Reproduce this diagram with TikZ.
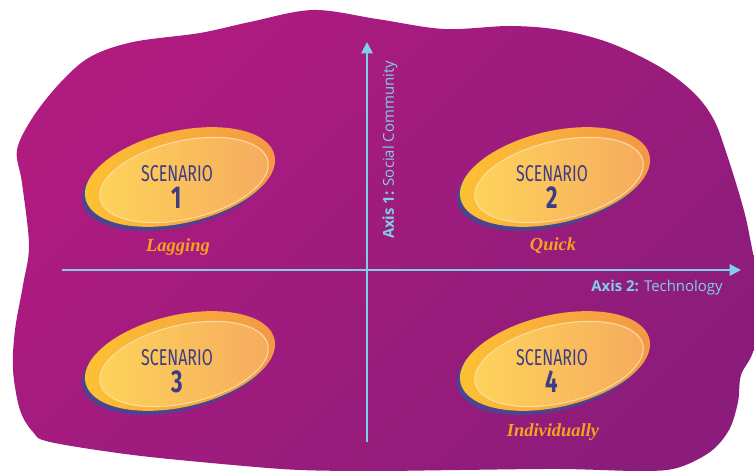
\documentclass[tikz,border=0pt]{standalone}
\usepackage{fontspec}
\setmainfont{Open Sans}
\newfontfamily\scenfont[FakeStretch=0.7]{Fira Sans}
\newfontfamily\tagfont{Liberation Serif}
\usepackage{tikz}
\usetikzlibrary{positioning}
\usetikzlibrary{arrows.meta}

\definecolor{blobA}{HTML}{B01B80}
\definecolor{blobB}{HTML}{8C1C7B}
\definecolor{axiscol}{HTML}{80CFE6}
\definecolor{discA}{HTML}{FDC232}
\definecolor{discB}{HTML}{F39646}
\definecolor{innerA}{HTML}{FDD45A}
\definecolor{innerB}{HTML}{F6AA5E}
\definecolor{rimcol}{HTML}{FBDDA2}
\definecolor{shadowcol}{HTML}{4A4590}
\definecolor{inkcol}{HTML}{3F3C86}
\definecolor{tagcol}{HTML}{F5A21E}

\tikzset{
  axisline/.style={draw=axiscol, line width=1.1pt, -{Triangle[length=6.5pt,width=6.5pt]}},
  axislabel/.style={text=axiscol, font=\fontsize{8.5}{10}\selectfont, inner sep=0pt},
  scenlabel/.style={text=inkcol, align=center, inner sep=0pt},
  taglabel/.style={text=tagcol, font=\tagfont\bfseries\itshape\fontsize{10.5}{12}\selectfont, inner sep=0pt},
}

\begin{document}
\begin{tikzpicture}[x=0.02cm, y=-0.02cm]
\fill[white] (0,0) rectangle (754,475);
\useasboundingbox (0,0) rectangle (754,475);

% backdrop
\begin{scope}
\clip (0,0) rectangle (754,475);
\shade[top color=blobA, bottom color=blobB, shading angle=45]
  plot[smooth cycle, tension=0.55] coordinates {
  (17,150) (33,117) (60,83) (90,57) (133,42) (200,33) (250,22) (313,10)
  (377,19) (444,29) (510,26) (560,30) (610,43) (660,67) (694,93) (714,120)
  (727,155) (741,200) (749,233) (758,290) (754,348) (741,375) (738,402)
  (729,430) (710,452) (677,468) (640,471) (560,469) (460,470) (377,471)
  (300,470) (233,465) (133,455) (50,442) (33,432) (20,410) (13,370)
  (15,330) (23,285) (29,245) (22,183)};
\end{scope}

% axes
\coordinate (v0) at (367,442);
\coordinate (v1) at (367,42);
\coordinate (h0) at (62,270);
\coordinate (h1) at (741,270);
\draw[axisline] (v0) -- (v1);
\draw[axisline] (h0) -- (h1);
\node[axislabel, rotate=90] (ax1) at (390,150) {\textbf{Axis 1:} Social Community};
\node[axislabel] (ax2) at (657,288) {\textbf{Axis 2:} Technology};

% scenario discs
\foreach \n/\cx/\cy in {1/180/177, 2/555/177, 3/180/361, 4/555/361} {
  \fill[shadowcol, rotate around={13:(\cx-3,\cy+4)}] (\cx-3,\cy+4) ellipse [x radius=97, y radius=46];
  \shade[left color=discA, right color=discB, rotate around={13:(\cx,\cy)}] (\cx,\cy) ellipse [x radius=97, y radius=46];
  \shade[left color=innerA, right color=innerB, draw=rimcol, line width=0.6pt, rotate around={13:(\cx+4,\cy+3)}] (\cx+4,\cy+3) ellipse [x radius=86, y radius=39];
  \node[scenlabel] (s\n) at (\cx-3,\cy+10) {{\scenfont\fontsize{13}{14}\selectfont SCENARIO}\\[2pt]{\scenfont\bfseries\fontsize{18}{18}\selectfont \n}};
}

\node[taglabel] (tag1) at (178,247) {Lagging};
\node[taglabel] (tag2) at (553,246) {Quick};
\node[taglabel] (tag4) at (553,432) {Individually};
\end{tikzpicture}
\end{document}
